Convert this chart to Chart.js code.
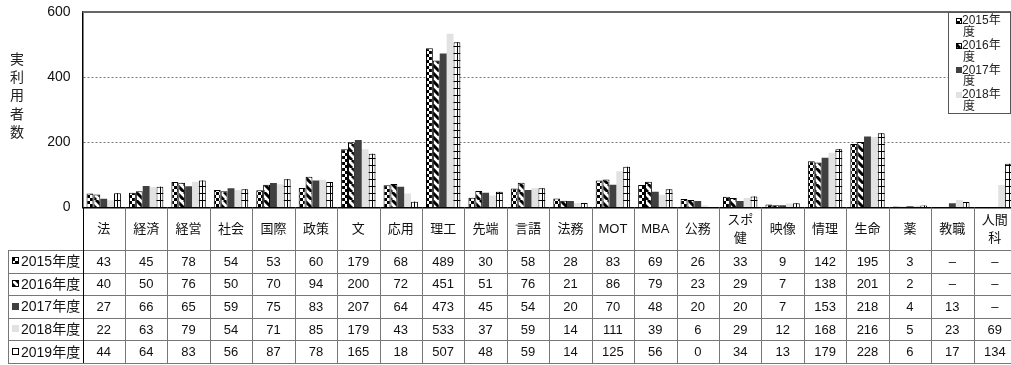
<!DOCTYPE html>
<html>
<head>
<meta charset="utf-8">
<script src="https://cdn.jsdelivr.net/npm/chart.js@4/dist/chart.umd.min.js"></script>
<style>
  html, body { margin: 0; padding: 0; background: #fff; overflow: hidden; }
  #wrap { width: 1016px; height: 365px; }
</style>
</head>
<body>
<div id="wrap"><canvas id="chart" width="1016" height="365"></canvas></div>
<script>
/* ── データ ── */
const categories = ['法','経済','経営','社会','国際','政策','文','応用','理工','先端','言語','法務','MOT','MBA','公務',['スポ','健'],'映像','情理','生命','薬','教職',['人間','科']];
const seriesNames = ['2015年度','2016年度','2017年度','2018年度','2019年度'];
const y2015 = [43,45,78,54,53,60,179,68,489,30,58,28,83,69,26,33,9,142,195,3,null,null];
const y2016 = [40,50,76,50,70,94,200,72,451,51,76,21,86,79,23,29,7,138,201,2,null,null];
const y2017 = [27,66,65,59,75,83,207,64,473,45,54,20,70,48,20,20,7,153,218,4,13,null];
const y2018 = [22,63,79,54,71,85,179,43,533,37,59,14,111,39,6,29,12,168,216,5,23,69];
const y2019 = [44,64,83,56,87,78,165,18,507,48,59,14,125,56,0,34,13,179,228,6,17,134];
const yTicks = [0, 200, 400, 600];
const yTitle = '実利用者数';

const FONT = '"Liberation Sans", "Noto Sans CJK JP", sans-serif';
Chart.defaults.font.family = FONT;
Chart.defaults.color = '#111';

/* ── 塗りパターン ── */
function makePattern(w, h, draw) {
  const c = document.createElement('canvas');
  c.width = w; c.height = h;
  const g = c.getContext('2d');
  draw(g, w, h);
  return g.createPattern(c, 'repeat');
}
const checker = makePattern(6, 6, (g) => {
  g.fillStyle = '#fff'; g.fillRect(0, 0, 6, 6);
  g.fillStyle = '#000'; g.fillRect(0, 0, 3, 3); g.fillRect(3, 3, 3, 3);
});
const diag = makePattern(8, 8, (g) => {
  g.fillStyle = '#fff'; g.fillRect(0, 0, 8, 8);
  g.strokeStyle = '#000'; g.lineWidth = 3;
  g.beginPath();
  [-8, 0, 8].forEach(k => { g.moveTo(k, 0); g.lineTo(k + 8, 8); });
  g.stroke();
});

const fills   = [checker, diag, '#404040', '#e2e2e2', '#ffffff'];
const borders = [1, 1, 0, 0, 1];
const allSeries = [y2015, y2016, y2017, y2018, y2019];

/* ── 2019年度: 格子模様 ── */
const gridBars = {
  id: 'gridBars',
  afterDatasetsDraw(chart) {
    const ctx = chart.ctx;
    const meta = chart.getDatasetMeta(4);
    meta.data.forEach((el) => {
      const p = el.getProps(['x', 'y', 'base', 'width'], true);
      if (p.y == null || isNaN(p.y) || p.base - p.y < 1) return;
      const l = p.x - p.width / 2, r = p.x + p.width / 2;
      ctx.save();
      ctx.strokeStyle = '#000'; ctx.lineWidth = 1;
      ctx.beginPath();
      ctx.moveTo(Math.round(p.x) + 0.5, p.y); ctx.lineTo(Math.round(p.x) + 0.5, p.base);
      for (let yy = p.base - 7; yy > p.y + 1; yy -= 7) {
        ctx.moveTo(l, Math.round(yy) + 0.5); ctx.lineTo(r, Math.round(yy) + 0.5);
      }
      ctx.stroke();
      ctx.restore();
    });
  }
};

function drawSwatch(ctx, i, x, y, s) {
  ctx.fillStyle = fills[i];
  ctx.fillRect(x, y, s, s);
  if (borders[i]) {
    ctx.strokeStyle = '#000'; ctx.lineWidth = 1;
    ctx.strokeRect(x + 0.5, y + 0.5, s - 1, s - 1);
  }
}

/* ── データ表・凡例・軸タイトル ── */
const extras = {
  id: 'extras',
  afterDraw(chart) {
    const ctx = chart.ctx;
    const area = chart.chartArea;
    const xs = chart.scales.x;
    const n = categories.length;
    const tableTop = 250, rowH = 22.6, tableLeft = 8;
    const tableBottom = tableTop + rowH * seriesNames.length;

    ctx.save();
    // 上枠
    ctx.strokeStyle = '#666'; ctx.lineWidth = 2;
    ctx.beginPath(); ctx.moveTo(area.left, area.top); ctx.lineTo(area.right, area.top); ctx.stroke();

    // 縦罫線
    const bounds = [];
    for (let i = 0; i <= n; i++) {
      if (i === 0) bounds.push(area.left);
      else if (i === n) bounds.push(area.right);
      else bounds.push((xs.getPixelForValue(i - 1) + xs.getPixelForValue(i)) / 2);
    }
    ctx.lineWidth = 1; ctx.strokeStyle = '#777';
    ctx.beginPath();
    bounds.forEach((bx) => {
      const px = Math.round(bx) + 0.5;
      ctx.moveTo(px, area.bottom); ctx.lineTo(px, tableBottom);
    });
    ctx.moveTo(tableLeft + 0.5, tableTop); ctx.lineTo(tableLeft + 0.5, tableBottom);
    for (let r = 0; r <= seriesNames.length; r++) {
      const py = Math.round(tableTop + r * rowH) + 0.5;
      ctx.moveTo(tableLeft, py); ctx.lineTo(area.right, py);
    }
    ctx.stroke();
    ctx.strokeStyle = '#000';
    ctx.beginPath(); ctx.moveTo(Math.round(area.left) + 0.5, area.bottom); ctx.lineTo(Math.round(area.left) + 0.5, tableBottom); ctx.stroke();

    // 見出し
    ctx.fillStyle = '#111';
    ctx.textAlign = 'center'; ctx.textBaseline = 'middle';
    ctx.font = '13px ' + FONT;
    const headY = (area.bottom + tableTop) / 2 + 1;
    categories.forEach((c, i) => {
      const cx = xs.getPixelForValue(i);
      if (Array.isArray(c)) {
        ctx.fillText(c[0], cx, headY - 9);
        ctx.fillText(c[1], cx, headY + 9);
      } else {
        ctx.fillText(c, cx, headY);
      }
    });

    // 値
    allSeries.forEach((vals, r) => {
      const cy = tableTop + r * rowH + rowH / 2 + 1;
      vals.forEach((v, i) => {
        ctx.fillText(v == null ? '–' : String(v), xs.getPixelForValue(i), cy);
      });
      drawSwatch(ctx, r, 12, Math.round(cy - 5), 7);
      ctx.fillStyle = '#111';
      ctx.textAlign = 'left';
      ctx.font = '14px ' + FONT;
      ctx.fillText(seriesNames[r], 21, cy);
      ctx.textAlign = 'center';
      ctx.font = '13px ' + FONT;
    });

    // 凡例
    const lx = 948, ly = Math.round(area.top), lw = 62, lh = 101;
    ctx.fillStyle = '#fff';
    ctx.fillRect(lx, ly, lw, lh);
    ctx.strokeStyle = '#555'; ctx.lineWidth = 1;
    ctx.strokeRect(lx + 0.5, ly + 0.5, lw, lh);
    ctx.font = '12px ' + FONT;
    ctx.textAlign = 'left';
    for (let i = 0; i < 4; i++) {
      const ey = ly + 9 + i * 24.7;
      drawSwatch(ctx, i, 956, Math.round(ey - 3), 6);
      ctx.fillStyle = '#222';
      ctx.fillText(seriesNames[i].slice(0, 5), 962, ey);
      ctx.fillText(seriesNames[i].slice(5), 963, ey + 11.5);
    }

    // 軸タイトル
    ctx.font = '14px ' + FONT;
    ctx.textAlign = 'center';
    ctx.fillStyle = '#222';
    [...yTitle].forEach((ch, i) => ctx.fillText(ch, 17, 60 + i * 18.3));
    ctx.restore();
  }
};

new Chart(document.getElementById('chart'), {
  type: 'bar',
  data: {
    labels: categories,
    datasets: allSeries.map((vals, i) => ({
      label: seriesNames[i],
      data: vals,
      backgroundColor: fills[i],
      borderColor: '#000',
      borderWidth: borders[i],
      categoryPercentage: 0.81,
      barPercentage: 1.0,
    })),
  },
  options: {
    responsive: false,
    devicePixelRatio: 1,
    animation: false,
    layout: { padding: { top: 12, left: 0, right: 0, bottom: 0 } },
    plugins: { legend: { display: false }, tooltip: { enabled: false } },
    scales: {
      x: {
        ticks: { display: false },
        grid: { display: false },
        border: { display: true, color: '#000', width: 1.5 },
        afterFit: (s) => { s.height = 157.5; s.paddingLeft = 0; s.paddingRight = 0; },
      },
      y: {
        min: 0, max: 600,
        afterBuildTicks: (s) => { s.ticks = yTicks.map(v => ({ value: v })); },
        ticks: { padding: 12, color: '#111', font: { size: 14 } },
        grid: {
          drawTicks: false,
          color: (c) => (c.tick && (c.tick.value === 200 || c.tick.value === 400)) ? '#777' : 'rgba(0,0,0,0)',
          lineWidth: 1,
        },
        border: { display: true, color: '#000', width: 1.5, dash: [2, 2] },
        afterFit: (s) => { s.width = 82.5; s.paddingTop = 0; s.paddingBottom = 0; },
      },
    },
  },
  plugins: [gridBars, extras],
});
</script>
</body>
</html>
